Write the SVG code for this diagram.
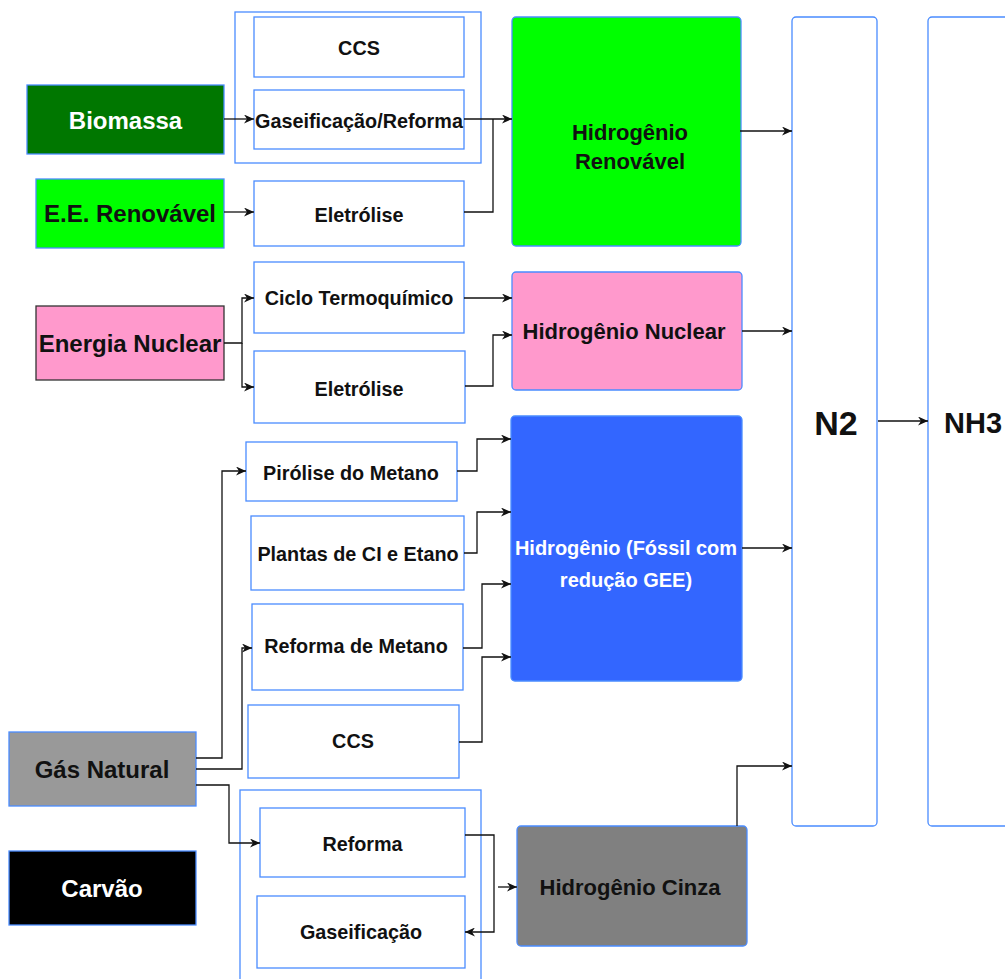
<svg xmlns="http://www.w3.org/2000/svg" width="1005" height="979" viewBox="0 0 1005 979">
<defs>
<style>
.box{fill:#ffffff;stroke:#4a8cff;stroke-width:1.3}
.cont{fill:none;stroke:#4a8cff;stroke-width:1.3}
.t{font-family:"Liberation Sans",Arial,sans-serif;font-weight:bold;text-anchor:middle;fill:#111}
.p{font-size:19.8px}
.h{font-size:22px}
.s{font-size:24px}
.w{fill:#ffffff}
.c{fill:none;stroke:#111;stroke-width:1.3}
</style>
<marker id="arr" markerWidth="11" markerHeight="9" refX="10" refY="4.5" orient="auto" markerUnits="userSpaceOnUse">
<path d="M0,0 L10,4.5 L0,9 L3,4.5 z" fill="#111"/>
</marker>
</defs>
<rect width="1005" height="979" fill="#ffffff"/>

<g id="containers">
<rect class="cont" x="235" y="12" width="246" height="151"/>
<rect class="cont" x="240" y="790" width="241" height="200"/>
</g>

<g id="biomassa"><rect x="27" y="85" width="197" height="69" fill="#007700" stroke="#4a8cff" stroke-width="1.3"/><text class="t s w" x="125.5" y="129">Biomassa</text></g>
<g id="ee-renovavel"><rect x="36" y="179" width="188" height="69" fill="#00ff00" stroke="#4a8cff" stroke-width="1.3"/><text class="t s" x="130" y="222">E.E. Renovável</text></g>
<g id="energia-nuclear"><rect x="36" y="306" width="188" height="74" fill="#ff99cc" stroke="#333333" stroke-width="1.3"/><text class="t s" x="130" y="352">Energia Nuclear</text></g>
<g id="gas-natural"><rect x="9" y="732" width="187" height="74" fill="#999999" stroke="#4a8cff" stroke-width="1.3"/><text class="t s" x="102" y="778">Gás Natural</text></g>
<g id="carvao"><rect x="9" y="851" width="187" height="74" fill="#000000" stroke="#4a8cff" stroke-width="1.3"/><text class="t s w" x="102" y="897">Carvão</text></g>

<g id="ccs1"><rect class="box" x="254" y="17" width="210" height="60"/><text class="t p" x="359" y="55">CCS</text></g>
<g id="gaseificacao-reforma"><rect class="box" x="254" y="90" width="210" height="59"/><text class="t p" x="359" y="128">Gaseificação/Reforma</text></g>
<g id="eletrolise1"><rect class="box" x="254" y="181" width="210" height="65"/><text class="t p" x="359" y="222">Eletrólise</text></g>
<g id="ciclo"><rect class="box" x="254" y="262" width="210" height="71"/><text class="t p" x="359" y="305">Ciclo Termoquímico</text></g>
<g id="eletrolise2"><rect class="box" x="254" y="351" width="211" height="72"/><text class="t p" x="359" y="396">Eletrólise</text></g>
<g id="pirolise"><rect class="box" x="246" y="442" width="211" height="59"/><text class="t p" x="351" y="480">Pirólise do Metano</text></g>
<g id="plantas"><rect class="box" x="251" y="516" width="213" height="74"/><text class="t p" x="358" y="561">Plantas de CI e Etano</text></g>
<g id="reforma-metano"><rect class="box" x="252" y="604" width="211" height="86"/><text class="t p" x="356" y="653">Reforma de Metano</text></g>
<g id="ccs2"><rect class="box" x="248" y="705" width="211" height="73"/><text class="t p" x="353" y="748">CCS</text></g>
<g id="reforma"><rect class="box" x="260" y="808" width="205" height="69"/><text class="t p" x="362.5" y="851">Reforma</text></g>
<g id="gaseificacao"><rect class="box" x="257" y="896" width="208" height="72"/><text class="t p" x="361" y="939">Gaseificação</text></g>

<g id="h-renovavel"><rect x="512" y="17" width="229" height="229" rx="4" fill="#00ff00" stroke="#4a8cff" stroke-width="1.3"/><text class="t h" x="630" y="140">Hidrogênio</text><text class="t h" x="630" y="169">Renovável</text></g>
<g id="h-nuclear"><rect x="512" y="272" width="230" height="118" rx="4" fill="#ff99cc" stroke="#4a8cff" stroke-width="1.3"/><text class="t h" x="624" y="339">Hidrogênio Nuclear</text></g>
<g id="h-fossil"><rect x="511" y="416" width="231" height="265" rx="4" fill="#3366ff" stroke="#4a8cff" stroke-width="1.3"/><text class="t w" style="font-size:20px" x="626" y="555">Hidrogênio (Fóssil com</text><text class="t w" style="font-size:20px" x="626" y="587">redução GEE)</text></g>
<g id="h-cinza"><rect x="517" y="826" width="230" height="120" rx="4" fill="#808080" stroke="#4a8cff" stroke-width="1.3"/><text class="t h" x="630" y="895">Hidrogênio Cinza</text></g>

<g id="n2"><rect class="box" x="792" y="17" width="85" height="809" rx="4"/><text class="t" style="font-size:34px" x="836" y="435">N2</text></g>
<g id="nh3"><rect class="box" x="928" y="17" width="110" height="809" rx="4"/><text class="t" style="font-size:29px;text-anchor:start" x="944" y="433">NH3</text></g>

<g id="connectors">
<path class="c" d="M224,119 H254" marker-end="url(#arr)"/>
<path class="c" d="M464,119 H512" marker-end="url(#arr)"/>
<path class="c" d="M464,212 H493 V119"/>
<path class="c" d="M224,212 H254" marker-end="url(#arr)"/>
<path class="c" d="M740,131 H792" marker-end="url(#arr)"/>
<path class="c" d="M224,343 H242 V298 H254" marker-end="url(#arr)"/>
<path class="c" d="M242,343 V387 H254" marker-end="url(#arr)"/>
<path class="c" d="M464,298 H512" marker-end="url(#arr)"/>
<path class="c" d="M465,386 H493 V335 H512" marker-end="url(#arr)"/>
<path class="c" d="M742,331 H792" marker-end="url(#arr)"/>
<path class="c" d="M457,471 H477 V439 H511" marker-end="url(#arr)"/>
<path class="c" d="M464,553 H477 V512 H511" marker-end="url(#arr)"/>
<path class="c" d="M463,648 H482 V584 H511" marker-end="url(#arr)"/>
<path class="c" d="M459,742 H482 V657 H511" marker-end="url(#arr)"/>
<path class="c" d="M742,548 H792" marker-end="url(#arr)"/>
<path class="c" d="M196,758 H222 V471 H246" marker-end="url(#arr)"/>
<path class="c" d="M196,769 H242 V648 H252" marker-end="url(#arr)"/>
<path class="c" d="M196,785 H229 V843 H260" marker-end="url(#arr)"/>
<path class="c" d="M465,835 H494 V932 H465" marker-end="url(#arr)"/>
<path class="c" d="M498,887 H517" marker-end="url(#arr)"/>
<path class="c" d="M737,826 V766 H792" marker-end="url(#arr)"/>
<path class="c" d="M878,421 H928" marker-end="url(#arr)"/>
</g>
</svg>
